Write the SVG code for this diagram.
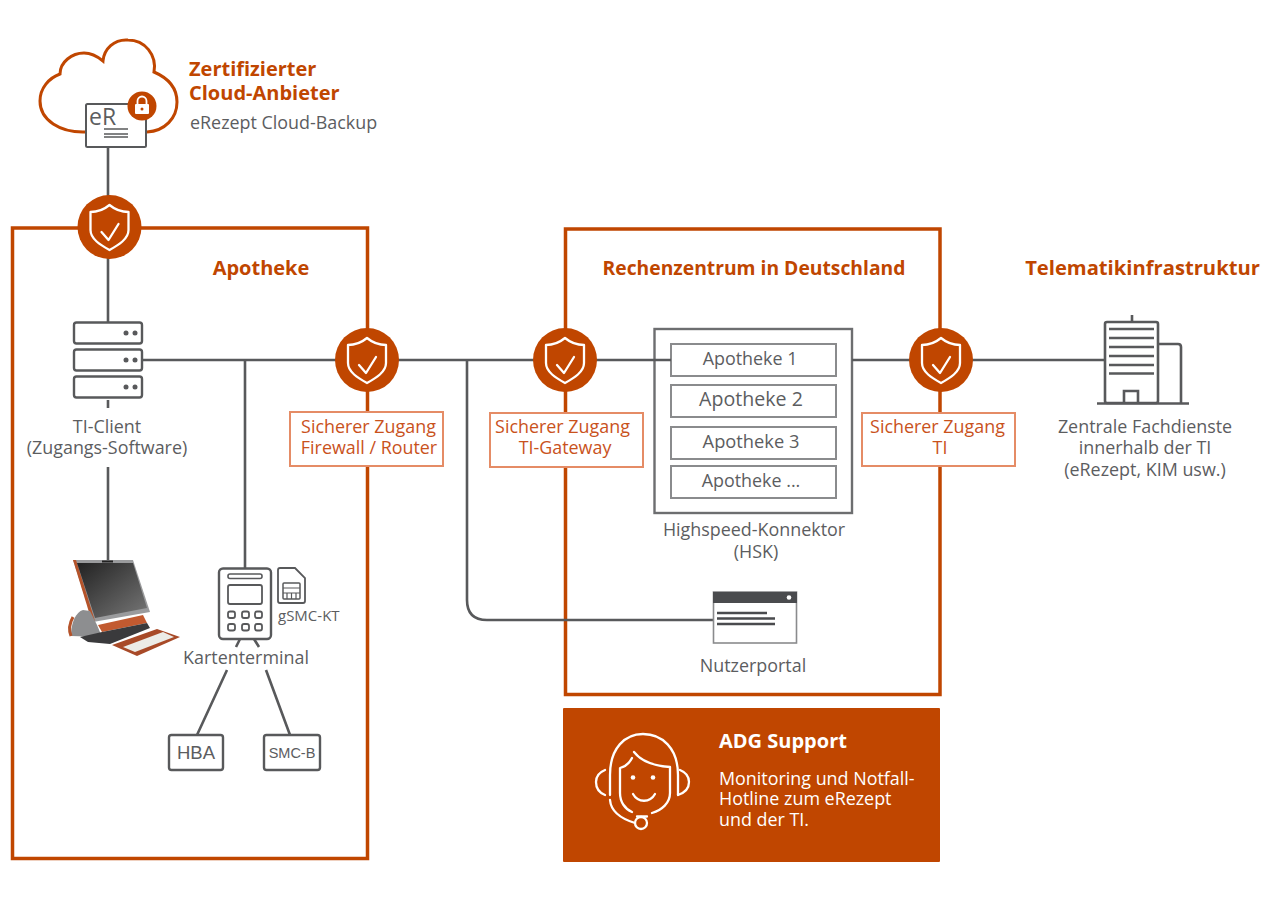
<svg xmlns="http://www.w3.org/2000/svg" width="1266" height="900" viewBox="0 0 1266 900">
<style>
text{font-family:"Open Sans","Liberation Sans",sans-serif;fill:#5c5d5f;font-size:17.900px}
.m{text-anchor:middle}
.h{fill:#c04600;font-weight:700;font-size:20px}
.o{fill:#c9521c;text-anchor:middle;font-size:17.900px}
.w{fill:#fff}
.frame{fill:none;stroke:#c04600;stroke-width:3.500}
.lb{fill:#fff;stroke:#e58c66;stroke-width:2}
.l{fill:none;stroke:#58595b;stroke-width:2.600}
.g{fill:#fff;stroke:#58595b;stroke-width:2.400}
.ap{fill:#fff;stroke:#8a8b8d;stroke-width:2}
.wl{fill:none;stroke:#fff;stroke-width:2.300;stroke-linecap:round;stroke-linejoin:round}
.d{fill:#58595b}
</style>
<defs>
<g id="shield">
<circle r="32" fill="#c04600"/>
<path class="wl" d="M0-22C6-17 12-15 19-15V3C19 12 9 18 0 23C-9 18-19 12-19 3V-15C-12-15-6-17 0-22Z"/>
<path class="wl" d="M-8 5L-1 13L9-3"/>
</g>
<g id="srv">
<rect x="-34" y="-10.500" width="68" height="21" rx="2.500" class="g"/>
<circle cx="18" cy="0" r="2.500" class="d"/><circle cx="27" cy="0" r="2.500" class="d"/>
</g>
<linearGradient id="scr" x1="0" y1="0" x2="1" y2="1"><stop offset="0" stop-color="#222"/><stop offset="1" stop-color="#777"/></linearGradient>
</defs>

<g id="frames">
<rect class="frame" x="12.500" y="228" width="355" height="630.500"/>
<rect class="frame" x="565.500" y="229" width="374.500" height="465.500"/>
</g>

<g id="hsk">
<rect x="654.500" y="329" width="197.500" height="184" fill="#fff" stroke="#6d6e70" stroke-width="2.400"/>
<rect class="ap" x="671" y="344" width="165" height="32"/><text class="m" x="750" y="365">Apotheke 1</text>
<rect class="ap" x="671" y="385" width="165" height="32"/><text class="m" x="751" y="406" style="font-size:19.600px">Apotheke 2</text>
<rect class="ap" x="671" y="427" width="165" height="32"/><text class="m" x="751" y="448" style="font-size:18.300px">Apotheke 3</text>
<rect class="ap" x="671" y="466" width="165" height="32"/><text class="m" x="751" y="487">Apotheke ...</text>
<text class="m" x="754" y="536">Highspeed-Konnektor</text>
<text class="m" x="756" y="558">(HSK)</text>
</g>

<g id="connectors">
<path class="l" d="M108 147V200M108 255V322M108 400V408M108 467V560"/>
<path class="l" d="M142 360H340M395 360H540M592 360H671M852 360H915M968 360H1105"/>
<path class="l" d="M245 360V569M467 360V600Q467 620 487 620H713"/>
<path class="l" d="M240 639L236 647M254 639L259 647M227 670L197 735M266 670L290 735"/>
</g>

<g id="cloud">
<path d="M86 132C60 133 40 120 40 101C40 88 49 78 60 74C60 62 72 53 84 53C90 53 97 56 103 61C104 49 114 39 128 40C145 40 157 55 154 72C168 78 177 88 177 102C177 118 165 131 147 132" fill="none" stroke="#c04600" stroke-width="3"/>
<rect x="86" y="104" width="60" height="43" rx="1.500" fill="#fff" stroke="#58595b" stroke-width="2"/>
<text x="89" y="125" style="font-size:23px">eR</text>
<path d="M104 129H128M104 134H128M104 137H128" stroke="#58595b" stroke-width="1.300" fill="none"/>
<circle cx="142" cy="106" r="14.500" fill="#c04600"/>
<rect x="135" y="104" width="14" height="10" rx="1" fill="#fff"/>
<path d="M137.500 104V101a4.500 4.500 0 0 1 9 0V104" fill="none" stroke="#fff" stroke-width="1.800"/>
<circle cx="142" cy="109" r="1.500" fill="#c04600"/>
<text class="h" x="189" y="76">Zertifizierter</text>
<text class="h" x="189" y="100">Cloud-Anbieter</text>
<text x="190" y="129">eRezept Cloud-Backup</text>
</g>

<g id="shield-cloud"><use href="#shield" x="109.500" y="227"/></g>
<g id="shield-firewall"><use href="#shield" x="367" y="360"/></g>
<g id="shield-gateway"><use href="#shield" x="565" y="360"/></g>
<g id="shield-ti"><use href="#shield" x="941" y="360"/></g>

<g id="apotheke-title"><text class="h m" x="261" y="275">Apotheke</text></g>
<g id="rz-title"><text class="h m" x="754" y="275" style="font-size:19.300px">Rechenzentrum in Deutschland</text></g>
<g id="ti-title"><text class="h m" x="1142.500" y="275" style="font-size:20.200px">Telematikinfrastruktur</text></g>

<g id="ti-client">
<use href="#srv" x="108" y="333"/><use href="#srv" x="108" y="360"/><use href="#srv" x="108" y="387"/>
<text class="m" x="107" y="433">TI-Client</text>
<text class="m" x="107" y="454">(Zugangs-Software)</text>
</g>

<g id="label-firewall">
<rect class="lb" x="290" y="412" width="153" height="54"/>
<text class="o" x="368.500" y="433">Sicherer Zugang</text><text class="o" x="369" y="454">Firewall / Router</text>
</g>
<g id="label-gateway">
<rect class="lb" x="490" y="413" width="153" height="54"/>
<text class="o" x="562.500" y="433">Sicherer Zugang</text><text class="o" x="565" y="454">TI-Gateway</text>
</g>
<g id="label-ti">
<rect class="lb" x="862" y="413" width="153" height="53"/>
<text class="o" x="937.500" y="433">Sicherer Zugang</text><text class="o" x="940" y="454">TI</text>
</g>

<g id="pos">
<path d="M73 560L133 560L150 612L93 622Z" fill="#9a9b9d"/>
<path d="M73 560L76 560L95 621L92 622Z" fill="#b5532a"/>
<path d="M77 563L133 563L147 608L95 618Z" fill="url(#scr)"/>
<rect x="102" y="560.500" width="11" height="2" fill="#222"/>
<path d="M71 636C71 622 76 612 83 610L90 611L97 625L102 637Z" fill="#8d8e90"/>
<path d="M73 617C69 624 69 631 71 636" fill="none" stroke="#b5532a" stroke-width="3"/>
<path d="M98 625L143 615L147 623L102 632Z" fill="#c25a30"/>
<path d="M80 637L102 632L147 623L150 628L110 644L88 642Z" fill="#3a3a3c"/>
<path d="M112 645L157 629L180 637L137 656Z" fill="#a84a28"/>
<path d="M123 647L163 632L174 637L135 652Z" fill="#ecece7"/>
</g>

<g id="kartenterminal">
<rect x="219" y="568.500" width="52" height="70.500" rx="4" class="g"/>
<rect x="228" y="574" width="34" height="4.500" rx="2" fill="#fff" stroke="#58595b" stroke-width="1.600"/>
<rect x="228" y="585" width="34" height="19" rx="2" fill="#fff" stroke="#58595b" stroke-width="1.800"/>
<g fill="#fff" stroke="#58595b" stroke-width="1.800">
<rect x="228" y="611.500" width="7" height="6.500" rx="2"/><rect x="242" y="611.500" width="7" height="6.500" rx="2"/><rect x="255" y="611.500" width="7" height="6.500" rx="2"/>
<rect x="228" y="624" width="7" height="6.500" rx="2"/><rect x="242" y="624" width="7" height="6.500" rx="2"/><rect x="255" y="624" width="7" height="6.500" rx="2"/>
</g>
<path d="M278 570Q278 568 280 568H295L305 578V601Q305 603 303 603H280Q278 603 278 601Z" fill="#fff" stroke="#58595b" stroke-width="1.800"/>
<rect x="283" y="583" width="17" height="16" rx="1" fill="none" stroke="#58595b" stroke-width="1.500"/>
<path d="M283 588H300M283 593H300M287 593V599M291.500 593V599M296 593V599" stroke="#58595b" stroke-width="1.200" fill="none"/>
<text x="278" y="621" style="font-size:15px">gSMC-KT</text>
<text class="m" x="246" y="664">Kartenterminal</text>
</g>
<g id="hba">
<rect x="169" y="735" width="54" height="35" rx="2.500" class="g"/>
<text class="m" x="196" y="759" style="font-size:18.500px;font-family:'Liberation Sans',sans-serif">HBA</text>
</g>
<g id="smc-b">
<rect x="264" y="735" width="56" height="35" rx="2.500" class="g"/>
<text class="m" x="292" y="758" style="font-size:14.500px;font-family:'Liberation Sans',sans-serif">SMC-B</text>
</g>

<g id="nutzerportal">
<rect x="713.500" y="592" width="83" height="51" fill="#fff" stroke="#8a8b8d" stroke-width="1.600"/>
<rect x="713" y="592" width="84" height="11" fill="#4a4b4e"/>
<circle cx="789" cy="597.500" r="2.300" fill="#fff"/>
<path d="M717 613H767M717 618.500H775M717 624H775" stroke="#4a4b4e" stroke-width="2.500" fill="none"/>
<text class="m" x="753" y="672">Nutzerportal</text>
</g>

<g id="ti-building">
<path class="l" d="M1132 315V322"/>
<rect x="1105" y="322" width="53" height="81" rx="2" fill="#fff" stroke="#58595b" stroke-width="2.600"/>
<path d="M1158 344H1178Q1181 344 1181 347V403" class="l"/>
<path d="M1097 403.500H1189" class="l"/>
<path d="M1109 329H1154M1109 338H1154M1109 347H1154M1109 356H1154M1109 365H1154M1109 373.500H1154" stroke="#58595b" stroke-width="2.400" fill="none"/>
<path d="M1124 403V391H1138V403" class="l"/>
<text class="m" x="1145" y="433">Zentrale Fachdienste</text>
<text class="m" x="1145" y="454">innerhalb der TI</text>
<text class="m" x="1145" y="476">(eRezept, KIM usw.)</text>
</g>

<g id="support">
<rect x="563" y="708" width="377" height="154" rx="1" fill="#c04600"/>
<g class="wl">
<path d="M610 795V775C610 748 625 734 643 734C662 734 678 748 678 775V795"/>
<path d="M605 770C600 772 596 776 596 782C596 789 600 793 605 795"/>
<path d="M680 770C685 772 689 776 689 782C689 789 684 793 678 795"/>
<path d="M634 752C641 761 655 766 670 767V793C670 803 662 810 652 813"/>
<path d="M632 758C629 764 624 767 620 768V793C620 802 625 809 632 812"/>
<path d="M610 800C611 812 622 819 635 823"/>
<circle cx="641" cy="823" r="6"/>
<path d="M637 816.500H647"/>
<path d="M633 794C638 803 650 803 655 794"/>
</g>
<circle cx="633" cy="777.500" r="2.300" fill="#fff"/><circle cx="653" cy="777.500" r="2.300" fill="#fff"/>
<text class="w" x="719" y="748" style="font-weight:700;font-size:20px">ADG Support</text>
<text class="w" x="719" y="785">Monitoring und Notfall-</text>
<text class="w" x="719" y="805">Hotline zum eRezept</text>
<text class="w" x="719" y="826">und der TI.</text>
</g>
</svg>
